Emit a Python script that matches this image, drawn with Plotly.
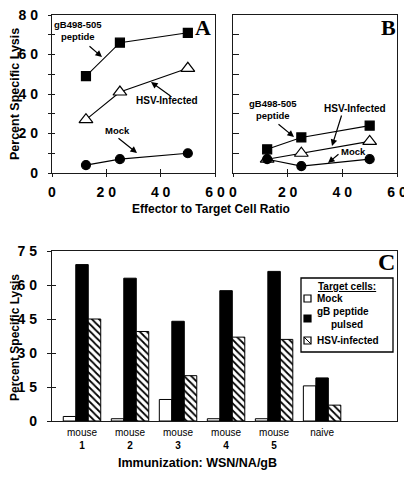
import plotly.graph_objects as go

# ---------------- data ----------------
ratio = [12.5, 25, 50]
a_peptide = [49, 66, 71]
a_hsv = [27, 41, 53]
a_mock = [4, 7, 10]
b_peptide = [12, 18, 24]
b_hsv = [7, 10, 16]
b_mock = [7, 3.5, 7]

groups = ["mouse<br><b>1</b>", "mouse<br><b>2</b>", "mouse<br><b>3</b>",
          "mouse<br><b>4</b>", "mouse<br><b>5</b>", "naive<br> "]
c_mock = [2, 1, 9.5, 1, 1, 15.5]
c_peptide = [69, 63, 44, 57.5, 66, 19]
c_hsv = [45, 39.5, 20, 37, 36, 7]
legend_names = ["Mock", "gB peptide<br>   pulsed", "HSV-infected"]

ab_yticks = [0, 10, 20, 30, 40, 50, 60, 70, 80]
ab_ytext = ["0", "", "2 0", "", "4 0", "", "6 0", "", "8 0"]
ab_xticks = [0, 20, 40, 60]
ab_xtext = ["0", "2 0", "4 0", "6 0"]
c_yticks = [0, 15, 30, 45, 60, 75]
c_ytext = ["0", "1 5", "3 0", "4 5", "6 0", "7 5"]

# page body has an 8px margin; map reference pixel coords to figure paper coords
OFF = 8
W, H = 404, 471
def px(x): return (x - OFF) / W
def py(y): return 1 - (y - OFF) / H

SANS = "Liberation Sans, Arial, sans-serif"
SERIF = "Liberation Serif, Times New Roman, serif"
LC = "#1a1a1a"

fig = go.Figure()

def line_trace(x, y, sym, xa, ya, open_=False, size=9):
    fig.add_trace(go.Scatter(
        x=x, y=y, mode="lines+markers", xaxis=xa, yaxis=ya, showlegend=False,
        line=dict(color="black", width=1.1),
        marker=dict(symbol=sym, size=size, color="white" if open_ else "black",
                    line=dict(color="black", width=1.2)),
        hoverinfo="skip"))

line_trace(ratio, a_peptide, "square", "x", "y")
line_trace(ratio, a_hsv, "triangle-up", "x", "y", open_=True, size=12)
line_trace(ratio, a_mock, "circle", "x", "y")
line_trace(ratio, b_peptide, "square", "x2", "y2")
line_trace(ratio, b_hsv, "triangle-up", "x2", "y2", open_=True, size=12)
line_trace(ratio, b_mock, "circle", "x2", "y2")

xs = list(range(len(groups)))
fig.add_trace(go.Bar(x=xs, y=c_mock, name=legend_names[0], xaxis="x3", yaxis="y3",
                     showlegend=False,
                     marker=dict(color="white", line=dict(color="black", width=1))))
fig.add_trace(go.Bar(x=xs, y=c_peptide, name=legend_names[1], xaxis="x3", yaxis="y3",
                     showlegend=False,
                     marker=dict(color="black", line=dict(color="black", width=1))))
fig.add_trace(go.Bar(x=xs, y=c_hsv, name=legend_names[2], xaxis="x3", yaxis="y3",
                     showlegend=False,
                     marker=dict(color="white", line=dict(color="black", width=1),
                                 pattern=dict(shape="\\", fgcolor="black", bgcolor="white",
                                              size=5, solidity=0.35))))

# dummy traces for overlay (inside) tick axes
for xa, ya in [("x", "y4"), ("x4", "y"), ("x5", "y2"), ("x6", "y6")]:
    fig.add_trace(go.Scatter(x=[None], y=[None], xaxis=xa, yaxis=ya, showlegend=False))

tickfont = dict(family=SANS, size=14, color="black", weight="bold")
common = dict(showline=True, linecolor=LC, linewidth=1.3, mirror=True, showgrid=False,
              zeroline=False, automargin=False, fixedrange=True, ticklabeloverflow="allow")
plain = dict(showline=False, showgrid=False, zeroline=False, automargin=False)

dA_x = [px(52), px(215)]
dA_y = [py(173), py(15)]
dB_x = [px(233), px(397)]
dC_x = [px(52), px(397)]
dC_y = [py(421), py(251)]

fig.update_layout(
    width=W, height=H, template="none",
    margin=dict(l=0, r=0, t=0, b=0, autoexpand=False),
    paper_bgcolor="white", plot_bgcolor="rgba(0,0,0,0)",
    barmode="group", bargap=0.22, bargroupgap=0,
    showlegend=False,
    xaxis=dict(domain=dA_x, range=[0, 60], tickvals=ab_xticks, ticktext=ab_xtext,
               ticks="outside", ticklen=3, tickcolor=LC, tickfont=tickfont,
               ticklabelstandoff=3, anchor="y", **common),
    yaxis=dict(domain=dA_y, range=[0, 80], tickvals=ab_yticks, ticktext=ab_ytext,
               ticks="outside", ticklen=3, tickcolor=LC, tickfont=tickfont,
               ticklabelstandoff=7, anchor="x", **common),
    xaxis2=dict(domain=dB_x, range=[0, 60], tickvals=ab_xticks, ticktext=ab_xtext,
                ticks="outside", ticklen=3, tickcolor=LC, tickfont=tickfont,
                ticklabelstandoff=3, anchor="y2", **common),
    yaxis2=dict(domain=dA_y, range=[0, 80], tickvals=ab_yticks, showticklabels=False,
                ticks="inside", ticklen=6, tickcolor=LC, anchor="x2", **common),
    xaxis3=dict(domain=dC_x, range=[-0.625, 6.56], tickvals=xs, ticktext=groups,
                ticks="", tickfont=dict(family=SANS, size=10, color="black"),
                ticklabelstandoff=2, anchor="y3", **common),
    yaxis3=dict(domain=dC_y, range=[0, 75], tickvals=c_yticks, ticktext=c_ytext,
                ticks="outside", ticklen=4, tickcolor=LC, tickfont=tickfont,
                ticklabelstandoff=7, anchor="x3", **common),
    # overlay axes to produce crossing ticks
    yaxis4=dict(overlaying="y", range=[0, 80], tickvals=ab_yticks, showticklabels=False,
                ticks="inside", ticklen=3, tickcolor=LC, anchor="x", **plain),
    xaxis4=dict(overlaying="x", range=[0, 60], tickvals=ab_xticks, showticklabels=False,
                ticks="inside", ticklen=4, tickcolor=LC, anchor="y", **plain),
    xaxis5=dict(overlaying="x2", range=[0, 60], tickvals=ab_xticks, showticklabels=False,
                ticks="inside", ticklen=4, tickcolor=LC, anchor="y2", **plain),
    xaxis6=dict(overlaying="x3", range=[-0.625, 6.56], showticklabels=False, ticks="",
                anchor="y6", **plain),
    yaxis6=dict(overlaying="y3", range=[0, 75], tickvals=c_yticks, showticklabels=False,
                ticks="inside", ticklen=4, tickcolor=LC, anchor="x6", **plain),
)

ann = []
shapes = []
def text(x, y, t, size=10, family=SANS, bold=True, angle=0, xanchor="center"):
    ann.append(dict(x=px(x), y=py(y), xref="paper", yref="paper", text=t, showarrow=False,
                    textangle=angle, xanchor=xanchor, yanchor="middle",
                    font=dict(family=family, size=size, color="black",
                              weight="bold" if bold else "normal")))
def arrow(tx, ty, hx, hy):
    ann.append(dict(x=px(hx), y=py(hy), xref="paper", yref="paper", text="",
                    showarrow=True, arrowhead=2, arrowsize=1.1, arrowwidth=1.2,
                    arrowcolor="black", ax=tx - hx, ay=ty - hy, axref="pixel", ayref="pixel"))
def rect(x0, y0, x1, y1, fill="white", lw=1.2):
    shapes.append(dict(type="rect", xref="paper", yref="paper", x0=px(x0), x1=px(x1),
                       y0=py(y0), y1=py(y1), fillcolor=fill,
                       line=dict(color="black", width=lw), layer="above"))
def seg(x0, y0, x1, y1, lw=1.2):
    shapes.append(dict(type="line", xref="paper", yref="paper", x0=px(x0), x1=px(x1),
                       y0=py(y0), y1=py(y1), line=dict(color="black", width=lw),
                       layer="above"))

# axis titles
text(15, 94, "Percent Specific Lysis", size=12.5, angle=-90)
text(211, 209, "Effector to Target Cell Ratio", size=12)
text(15, 338, "Percent Specific Lysis", size=12, angle=-90)
text(197, 463, "Immunization: WSN/NA/gB", size=12.5)
# panel letters
text(203, 28, "A", size=22, family=SERIF)
text(388, 28, "B", size=22, family=SERIF)
text(386, 262, "C", size=24, family=SERIF)
# panel A labels
text(78, 31, "gB498-505<br>peptide", size=9.5)
arrow(88, 45, 102, 57)
text(167, 101, "HSV-Infected", size=10)
arrow(172, 97, 151, 82)
text(117, 131, "Mock", size=9.5)
arrow(117, 137, 137, 153)
# panel B labels
text(273, 110, "gB498-505<br>peptide", size=9.5)
arrow(277, 123, 294, 137)
text(355, 109, "HSV-Infected", size=10)
arrow(342, 114, 332, 146)
text(353, 152, "Mock", size=9.5)
arrow(340, 153, 328, 163)

# legend box for panel C
rect(301, 278, 393, 352, lw=1.3)
text(347, 286, "<u>Target cells:</u>", size=10)
rect(304, 295, 311, 302)
text(315, 298.5, legend_names[0], size=10, xanchor="left")
rect(304, 315, 311, 322, fill="black")
text(315, 318, legend_names[1], size=10, xanchor="left")
rect(304, 337, 311, 344)
seg(304, 337, 311, 344, lw=1)
text(315, 340.5, legend_names[2], size=10, xanchor="left")

fig.update_layout(annotations=ann, shapes=shapes)
fig.write_html("out.html")
